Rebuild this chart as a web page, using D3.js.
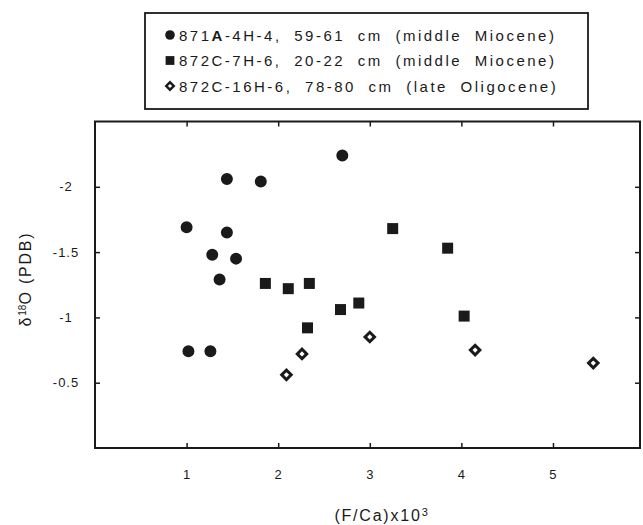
<!DOCTYPE html>
<html>
<head>
    <title>d18O vs F/Ca</title>
    <script src="https://d3js.org/d3.v7.min.js"></script>
    <style>
        body { margin: 0; background: #fff; }
        text { font-family: "Liberation Sans", Arial, sans-serif; fill: #1a1a1a; }
        .tick text { font-size: 13px; letter-spacing: 1px; }
        .legend-text { font-size: 15px; letter-spacing: 2.5px; word-spacing: 6px; }
        .axis-label { font-size: 16px; letter-spacing: 1.8px; }
    </style>
</head>
<body>
    <svg width="643" height="525"></svg>
    <script>
        // 871A-4H-4, 59-61 cm (middle Miocene)
        const hole871A_x = [2.70, 1.44, 1.81, 1.00, 1.44, 1.28, 1.54, 1.36, 1.02, 1.26];
        const hole871A_y = [-2.24, -2.06, -2.04, -1.69, -1.65, -1.48, -1.45, -1.29, -0.74, -0.74];

        // 872C-7H-6, 20-22 cm (middle Miocene)
        const hole872C7_x = [3.25, 3.85, 1.86, 2.11, 2.34, 2.88, 2.68, 2.32, 4.03];
        const hole872C7_y = [-1.68, -1.53, -1.26, -1.22, -1.26, -1.11, -1.06, -0.92, -1.01];

        // 872C-16H-6, 78-80 cm (late Oligocene)
        const hole872C16_x = [3.00, 2.26, 2.09, 4.15, 5.44];
        const hole872C16_y = [-0.85, -0.72, -0.56, -0.75, -0.65];

        const xTicks = [1, 2, 3, 4, 5];
        const yTicks = [-2, -1.5, -1, -0.5];

        const series = [
            {label: ["871", "A", "-4H-4, 59-61 cm (middle Miocene)"], xs: hole871A_x, ys: hole871A_y, shape: "circle"},
            {label: ["872C-7H-6, 20-22 cm (middle Miocene)"], xs: hole872C7_x, ys: hole872C7_y, shape: "square"},
            {label: ["872C-16H-6, 78-80 cm (late Oligocene)"], xs: hole872C16_x, ys: hole872C16_y, shape: "diamond"}
        ];

        const ink = "#1a1a1a";
        const plot = {left: 95, right: 640, top: 121.5, bottom: 448};

        const svg = d3.select("svg");

        const x = d3.scaleLinear().domain([0, 5.95]).range([plot.left, plot.right]);
        const y = d3.scaleLinear().domain([0, -2.5]).range([plot.bottom, plot.top]);

        // marker drawing
        function marker(sel, shape, scale) {
            scale = scale || 1;
            if (shape === "circle") {
                sel.append("path")
                   .attr("d", d3.symbol(d3.symbolCircle, 113 * scale * scale)())
                   .attr("fill", ink);
            } else if (shape === "square") {
                sel.append("path")
                   .attr("d", d3.symbol(d3.symbolSquare, 121 * scale * scale)())
                   .attr("fill", ink);
            } else {
                sel.append("path")
                   .attr("d", d3.symbol(d3.symbolSquare, 45 * scale * scale)())
                   .attr("transform", "rotate(45)")
                   .attr("fill", "#fff")
                   .attr("stroke", ink)
                   .attr("stroke-width", 3 * scale);
            }
        }

        // Axes (ticks pointing inward on all four sides)
        const bottomAxis = svg.append("g")
            .attr("transform", "translate(0," + plot.bottom + ")")
            .call(d3.axisBottom(x).tickValues(xTicks).tickSize(-5).tickPadding(22).tickFormat(d => String(d)));
        const topAxis = svg.append("g")
            .attr("transform", "translate(0," + plot.top + ")")
            .call(d3.axisTop(x).tickValues(xTicks).tickSize(-5).tickFormat(""));
        const leftAxis = svg.append("g")
            .attr("transform", "translate(" + plot.left + ",0)")
            .call(d3.axisLeft(y).tickValues(yTicks).tickSize(-5).tickFormat(d => String(d)));
        const rightAxis = svg.append("g")
            .attr("transform", "translate(" + plot.right + ",0)")
            .call(d3.axisRight(y).tickValues(yTicks).tickSize(-5).tickFormat(""));

        [bottomAxis, topAxis, leftAxis, rightAxis].forEach(g => {
            g.select(".domain").remove();
            g.selectAll(".tick line").attr("stroke", ink).attr("stroke-width", 1.5);
            g.selectAll(".tick text").attr("fill", ink);
        });
        leftAxis.selectAll(".tick text").attr("text-anchor", "middle").attr("x", -29);

        // plot border
        svg.append("rect")
           .attr("x", plot.left)
           .attr("y", plot.top)
           .attr("width", plot.right - plot.left)
           .attr("height", plot.bottom - plot.top)
           .attr("fill", "none")
           .attr("stroke", ink)
           .attr("stroke-width", 2);

        // points
        series.forEach(s => {
            const pts = s.xs.map((v, i) => ({x: v, y: s.ys[i]}));
            svg.append("g").selectAll("g")
               .data(pts)
               .enter().append("g")
               .attr("transform", d => "translate(" + x(d.x) + "," + y(d.y) + ")")
               .each(function() { marker(d3.select(this), s.shape); });
        });

        // axis titles
        svg.append("text")
           .attr("class", "axis-label")
           .attr("x", 382)
           .attr("y", 521)
           .attr("text-anchor", "middle")
           .text("(F/Ca)x10")
           .append("tspan")
           .attr("dy", -5)
           .style("font-size", "11px")
           .text("3");

        const yTitle = svg.append("text")
           .attr("class", "axis-label")
           .attr("transform", "translate(31,279) rotate(-90)")
           .attr("text-anchor", "middle");
        yTitle.append("tspan").text("δ");
        yTitle.append("tspan").attr("dy", -5).style("font-size", "10px").style("letter-spacing", "0px").text("18");
        yTitle.append("tspan").attr("dy", 5).text("O (PDB)");

        // legend
        svg.append("rect")
           .attr("x", 145)
           .attr("y", 13)
           .attr("width", 443)
           .attr("height", 96)
           .attr("fill", "#fff")
           .attr("stroke", ink)
           .attr("stroke-width", 1.8);

        const legend = svg.selectAll(".legend")
            .data(series)
            .enter().append("g")
            .attr("class", "legend")
            .attr("transform", (d, i) => "translate(0," + (35 + i * 25.5) + ")");

        legend.append("g")
            .attr("transform", "translate(170,0)")
            .each(function(d) { marker(d3.select(this), d.shape, 0.8); });

        legend.append("text")
            .attr("class", "legend-text")
            .attr("x", 179)
            .attr("y", 5.5)
            .each(function(d) {
                const t = d3.select(this);
                d.label.forEach((part, i) => {
                    const sp = t.append("tspan").text(part);
                    if (d.label.length > 1 && i === 1) sp.style("font-weight", "bold");
                });
            });
    </script>
</body>
</html>
